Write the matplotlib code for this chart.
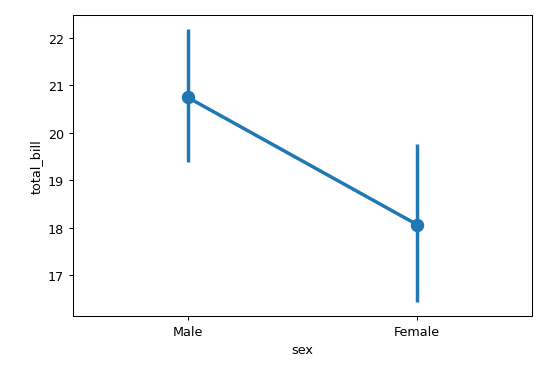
import matplotlib
matplotlib.use("Agg")
import matplotlib.pyplot as plt

# mean total_bill per sex with 95% CI bounds
categories = ["Male", "Female"]
means = [20.74, 18.06]
ci_low = [19.37, 16.43]
ci_high = [22.19, 19.76]

color = "#1f77b4"
dpi = 92

fig = plt.figure(figsize=(545 / dpi, 370 / dpi), dpi=dpi)
ax = fig.add_axes([0.134, 0.144, 0.842, 0.813])

xs = list(range(len(categories)))
for x, lo, hi in zip(xs, ci_low, ci_high):
    ax.plot([x, x], [lo, hi], color=color, lw=2.7, solid_capstyle="butt")
ax.plot(xs, means, color=color, lw=2.7)
ax.plot(xs, means, "o", color=color, markersize=9.5)

ax.set_xticks(xs)
ax.set_xticklabels(categories)
ax.set_xlim(-0.5, len(categories) - 0.5)
ax.set_xlabel("sex")
ax.set_ylabel("total_bill")

fig.savefig("out.png", dpi=dpi)
